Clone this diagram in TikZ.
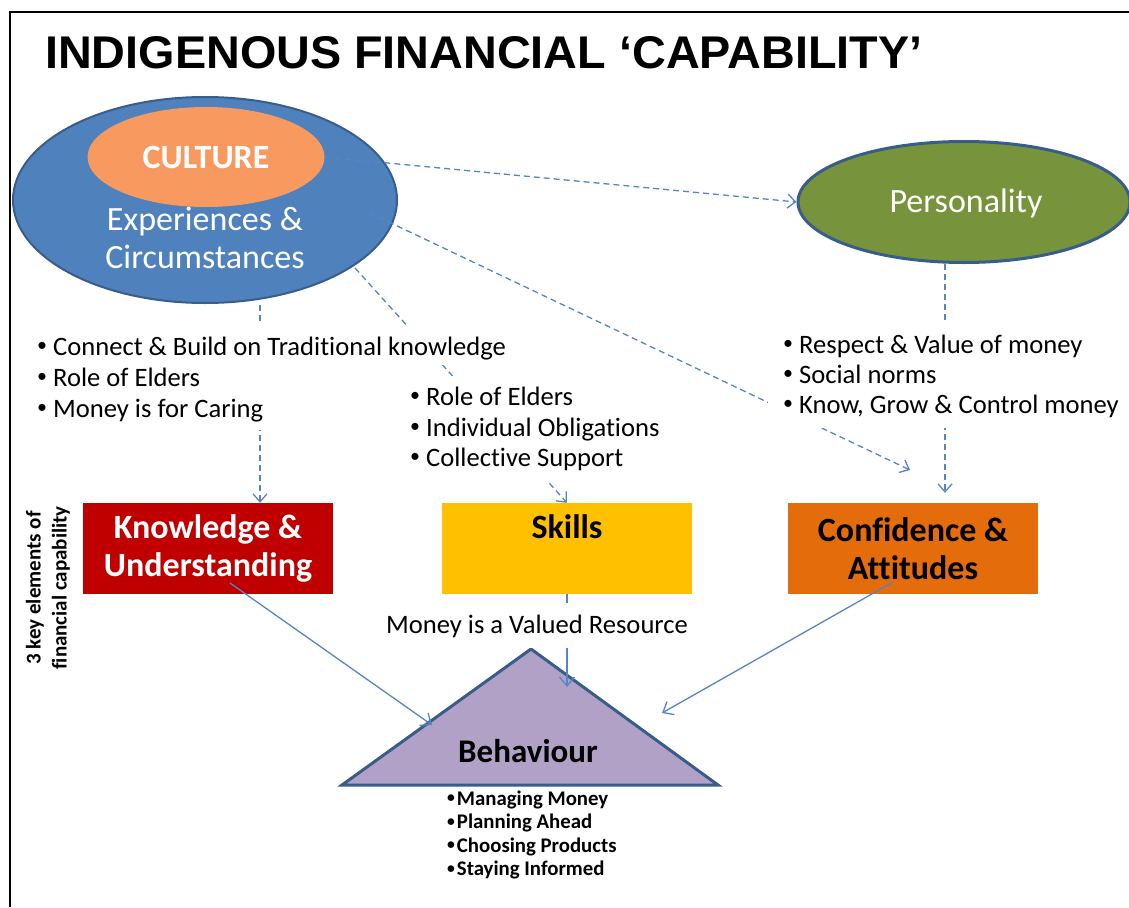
\documentclass[tikz,border=0pt]{standalone}
\usepackage{graphicx}
\usepackage{fontspec}
\setmainfont{Carlito}[Ligatures=NoCommon]
\newfontfamily\headfont{Liberation Sans}
\usetikzlibrary{arrows.meta,shapes.geometric,calc}

\definecolor{expblue}{HTML}{4F81BD}
\definecolor{expedge}{HTML}{385D8A}
\definecolor{cultorange}{HTML}{F89A60}
\definecolor{persgreen}{HTML}{77933C}
\definecolor{knowred}{HTML}{C00000}
\definecolor{skillgold}{HTML}{FFC000}
\definecolor{confor}{HTML}{E46C0A}
\definecolor{behlilac}{HTML}{B2A1C7}
\definecolor{linkblue}{HTML}{5585C2}

\newcommand{\padline}[2]{\makebox[#1][l]{#2}}
% a smaller bullet, raised to sit at mid x-height
\newcommand{\bul}{\raisebox{0.12em}{\scalebox{0.75}{•}}}

\tikzset{
  bigtxt/.style={font=\fontsize{34}{38}\selectfont, inner sep=0pt},
  bultxt/.style={font=\fontsize{26.6}{31}\selectfont, anchor=base west,
    inner xsep=0pt, inner ysep=0pt, fill=white, text=black},
  smallbul/.style={font=\fontsize{20.8}{23.5}\selectfont\bfseries,
    anchor=base west, inner sep=0pt},
  elembox/.style={draw=none, minimum width=250pt, minimum height=91pt,
    inner sep=0pt, align=center, font=\fontsize{34}{38}\selectfont\bfseries},
  dlink/.style={draw=linkblue, line width=1.3pt, dash pattern=on 6pt off 4pt,
    -{Straight Barb[length=8pt,width=14pt,line width=1.3pt]}},
  slink/.style={draw=linkblue, line width=1.3pt,
    -{Straight Barb[length=9pt,width=15pt,line width=1.3pt]}},
}

\begin{document}
\begin{tikzpicture}[x=1pt,y=-1pt]
\useasboundingbox (0,0) rectangle (1129,907);

% frame
\draw[line width=2.5pt] (10,907) -- (10,12) -- (1129,12);

% heading
\node[anchor=base west, inner sep=0pt] (title) at (45,69)
  {\resizebox{877pt}{32pt}{\headfont\bfseries INDIGENOUS FINANCIAL ‘CAPABILITY’}};

% culture and experiences
\node[ellipse, fill=expblue, draw=expedge, line width=2pt,
  minimum width=384pt, minimum height=206pt, inner sep=0pt] (exp) at (205,200) {};
\node[ellipse, fill=cultorange, minimum width=237pt, minimum height=100pt,
  inner sep=0pt, text=white, font=\fontsize{34}{38}\selectfont\bfseries]
  (culture) at (206,157) {CULTURE};
\node[bigtxt, anchor=base, text=white] (exptxta) at (205,230) {Experiences \&};
\node[bigtxt, anchor=base, text=white] (exptxtb) at (205,268) {Circumstances};

% personality
\node[ellipse, fill=persgreen, draw=expedge, line width=3pt,
  minimum width=332pt, minimum height=121pt, inner sep=0pt] (pers) at (964,202) {};
\node[bigtxt, anchor=base, text=white] (perstxt) at (966,212) {Personality};

% the three elements
\node[elembox, fill=knowred, text=white] (know) at (208,548.5)
  {Knowledge \&\\Understanding};
\node[elembox, fill=skillgold, text=black] (skills) at (567,548.5)
  {Skills\\\phantom{g}};
\node[elembox, fill=confor, text=black] (conf) at (913,548.5)
  {Confidence \&\\Attitudes};

\node[rotate=90, align=center, inner sep=0pt,
  font=\fontsize{21}{26}\selectfont\bfseries] (side) at (48,588)
  {3 key elements of\\financial capability};

% behaviour triangle
\coordinate (tA) at (531,649);
\coordinate (tL) at (342,785);
\coordinate (tR) at (718,785);
\draw[fill=behlilac, draw=expedge, line width=3pt, line join=miter]
  (tL) -- (tA) -- (tR) -- cycle;
\node[anchor=base, inner sep=0pt, font=\fontsize{33}{38}\selectfont\bfseries]
  (behav) at (528,762) {Behaviour};

% dashed influence links
\coordinate (d2s) at (370,213);
\coordinate (d2e) at (910,470);
\coordinate (d3s) at (355,268);
\coordinate (d4s) at (260,305);
\coordinate (d5s) at (945,264);
\draw[dlink] (culture.east) -- (pers.west);
\draw[dlink] (d2s) -- (d2e);
\draw[dlink] (d3s) -- (skills.north);
\draw[dlink] (d4s) -- (d4s |- know.north);
\draw[dlink, shorten >=10pt] (d5s) -- (d5s |- conf.north);

% solid links into behaviour
\coordinate (k0) at (230,583);
\coordinate (k1) at (432,725);
\coordinate (c0) at (893,582);
\coordinate (c1) at (662,713);
\coordinate (s1) at (567,687);
\draw[slink] (k0) -- (k1);
\draw[slink] (skills.south) -- (s1);
\draw[slink] (c0) -- (c1);

% bullet lists
\node[bultxt, text height=30pt, text depth=10pt] (la) at (37,355)
  {\bul\ Connect \& Build on Traditional knowledge};
\node[bultxt, text height=21pt, text depth=10pt] (lb) at (37,386)
  {\padline{236pt}{\bul\ Role of Elders}};
\node[bultxt, text height=21pt, text depth=13pt] (lc) at (37,417)
  {\padline{236pt}{\bul\ Money is for Caring}};

\node[bultxt, text height=29pt, text depth=15pt] (ma) at (410,405)
  {\bul\ Role of Elders};
\node[bultxt, text height=16pt, text depth=15pt] (mb) at (410,436)
  {\bul\ Individual Obligations};
\node[bultxt, text height=15pt, text depth=16pt] (mc) at (410,466)
  {\bul\ Collective Support};

\node[bultxt, text height=31pt, text depth=15pt] (ra) at (768,353)
  {\hspace*{15pt}\padline{345pt}{\bul\ Respect \& Value of money}};
\node[bultxt, text height=15pt, text depth=15pt] (rb) at (768,383)
  {\hspace*{15pt}\padline{345pt}{\bul\ Social norms}};
\node[bultxt, text height=15pt, text depth=15pt] (rc) at (768,413)
  {\hspace*{15pt}\padline{345pt}{\bul\ Know, Grow \& Control money}};

\node[font=\fontsize{26.6}{31}\selectfont, anchor=base, fill=white,
  inner xsep=3pt, inner ysep=0pt, text height=30pt, text depth=15pt]
  (mvr) at (537,633) {Money is a Valued Resource};

% behaviour list
\node[smallbul] (ba) at (447,805) {\bul\kern2pt Managing Money};
\node[smallbul] (bb) at (447,828.5) {\bul\kern2pt Planning Ahead};
\node[smallbul] (bc) at (447,852) {\bul\kern2pt Choosing Products};
\node[smallbul] (bd) at (447,875.5) {\bul\kern2pt Staying Informed};

\end{tikzpicture}
\end{document}
